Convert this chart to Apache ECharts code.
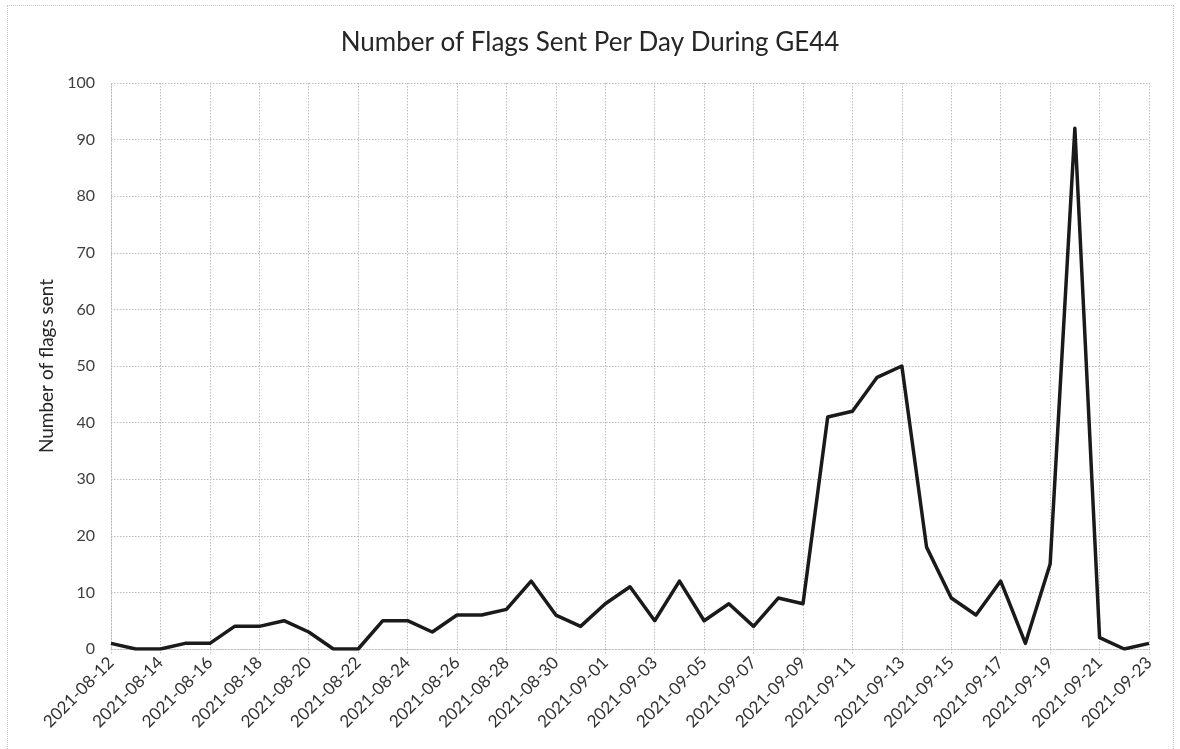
<!DOCTYPE html>
<html>
<head>
<meta charset="utf-8">
<title>Number of Flags Sent Per Day During GE44</title>
<script src="https://cdn.jsdelivr.net/npm/echarts@6/dist/echarts.min.js"></script>
<style>
  html, body { margin: 0; padding: 0; background: #ffffff; }
  #frame {
    position: absolute; left: 7px; top: 5px; width: 1167px; height: 760px;
    border: 1px dotted #c8c8c8; box-sizing: border-box;
  }
  #chart { position: absolute; left: 0; top: 0; width: 1180px; height: 749px; }
</style>
</head>
<body>
<div id="frame"></div>
<div id="chart"></div>
<script>
// Daily dates covered by the campaign
const dates = [
  '2021-08-12','2021-08-13','2021-08-14','2021-08-15','2021-08-16','2021-08-17','2021-08-18',
  '2021-08-19','2021-08-20','2021-08-21','2021-08-22','2021-08-23','2021-08-24','2021-08-25',
  '2021-08-26','2021-08-27','2021-08-28','2021-08-29','2021-08-30','2021-08-31','2021-09-01',
  '2021-09-02','2021-09-03','2021-09-04','2021-09-05','2021-09-06','2021-09-07','2021-09-08',
  '2021-09-09','2021-09-10','2021-09-11','2021-09-12','2021-09-13','2021-09-14','2021-09-15',
  '2021-09-16','2021-09-17','2021-09-18','2021-09-19','2021-09-20','2021-09-21','2021-09-22',
  '2021-09-23'
];

// Flags sent on each day
const flagsSent = [
  1, 0, 0, 1, 1, 4, 4,
  5, 3, 0, 0, 5, 5, 3,
  6, 6, 7, 12, 6, 4, 8,
  11, 5, 12, 5, 8, 4, 9,
  8, 41, 42, 48, 50, 18, 9,
  6, 12, 1, 15, 92, 2, 0,
  1
];

const chartTitle = 'Number of Flags Sent Per Day During GE44';
const yAxisTitle = 'Number of flags sent';

const FONT = 'Lato, "Open Sans", sans-serif';
const gridDots = { color: '#bdbdbd', width: 1, type: [1.5, 1.5] };

const chart = echarts.init(document.getElementById('chart'), null, { renderer: 'canvas' });
chart.setOption({
  animation: false,
  backgroundColor: 'transparent',
  title: {
    text: chartTitle,
    left: 'center',
    top: 25,
    textStyle: { fontFamily: FONT, fontSize: 26, fontWeight: 'normal', color: '#262626' }
  },
  grid: { left: 111, right: 31, top: 83, bottom: 100, containLabel: false },
  xAxis: {
    type: 'category',
    data: dates,
    boundaryGap: false,
    axisLine: { show: true, lineStyle: gridDots },
    axisTick: { show: true, interval: 1, length: 5, lineStyle: gridDots },
    splitLine: { show: true, interval: 1, lineStyle: gridDots },
    axisLabel: {
      interval: 1,
      rotate: 45,
      margin: 11,
      fontFamily: FONT,
      fontSize: 17,
      color: '#333333'
    }
  },
  yAxis: {
    type: 'value',
    min: 0,
    max: 100,
    interval: 10,
    name: yAxisTitle,
    nameLocation: 'middle',
    nameGap: 54,
    nameTextStyle: { fontFamily: FONT, fontSize: 19, color: '#262626' },
    axisLine: { show: true, lineStyle: gridDots },
    axisTick: { show: false },
    splitLine: { show: true, lineStyle: gridDots },
    axisLabel: { fontFamily: FONT, fontSize: 16, color: '#404040', margin: 16 }
  },
  series: [{
    type: 'line',
    data: flagsSent,
    symbol: 'none',
    lineStyle: { color: '#1a1a1a', width: 3.5, join: 'round' },
    z: 5
  }]
});
</script>
</body>
</html>
